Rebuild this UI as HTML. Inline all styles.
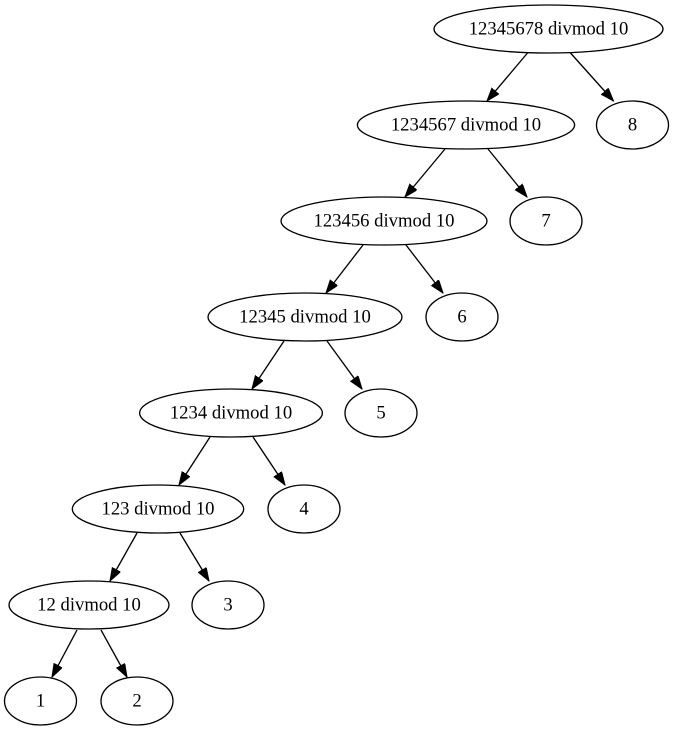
<!DOCTYPE html>
<html><head><meta charset="utf-8"><style>
html,body{margin:0;padding:0;background:#fff;}
svg{display:block;}
text{font-family:"Liberation Serif",serif;font-size:18.67px;fill:#000;text-anchor:middle;dominant-baseline:central;}
ellipse{fill:none;stroke:#000;stroke-width:1.33;}
line{stroke:#000;stroke-width:1.33;}
</style></head><body>
<svg width="675" height="731" viewBox="0 0 675 731">
<defs><marker id="a" markerWidth="14" markerHeight="10" refX="13.3" refY="4.7" orient="auto" markerUnits="userSpaceOnUse"><polygon points="0,0 13.3,4.7 0,9.4" fill="#000" stroke="#000"/></marker></defs>
<ellipse cx="548.5" cy="29" rx="114.5" ry="24"/><text x="548.5" y="29">12345678 divmod 10</text>
<ellipse cx="632.5" cy="125" rx="36" ry="24"/><text x="632.5" y="125">8</text>
<ellipse cx="466" cy="125" rx="108.6" ry="24"/><text x="466" y="125">1234567 divmod 10</text>
<ellipse cx="546" cy="221" rx="36" ry="24"/><text x="546" y="221">7</text>
<ellipse cx="384" cy="221" rx="103" ry="24"/><text x="384" y="221">123456 divmod 10</text>
<ellipse cx="462" cy="317" rx="36" ry="24"/><text x="462" y="317">6</text>
<ellipse cx="305" cy="317" rx="97" ry="24"/><text x="305" y="317">12345 divmod 10</text>
<ellipse cx="381" cy="413" rx="36" ry="24"/><text x="381" y="413">5</text>
<ellipse cx="231" cy="413" rx="91.4" ry="24"/><text x="231" y="413">1234 divmod 10</text>
<ellipse cx="304" cy="509" rx="36" ry="24"/><text x="304" y="509">4</text>
<ellipse cx="158" cy="509" rx="85.7" ry="24"/><text x="158" y="509">123 divmod 10</text>
<ellipse cx="228" cy="605" rx="36" ry="24"/><text x="228" y="605">3</text>
<ellipse cx="89" cy="605" rx="80" ry="24"/><text x="89" y="605">12 divmod 10</text>
<ellipse cx="40.5" cy="701" rx="36" ry="24"/><text x="40.5" y="701">1</text>
<ellipse cx="137" cy="701" rx="36" ry="24"/><text x="137" y="701">2</text>
<g marker-end="url(#a)">
<line x1="527.5" y1="53" x2="487" y2="101"/>
<line x1="570.5" y1="53" x2="613.5" y2="101"/>
<line x1="445" y1="149" x2="405" y2="197"/>
<line x1="488" y1="149" x2="527" y2="197"/>
<line x1="363" y1="245" x2="326" y2="293"/>
<line x1="406" y1="245" x2="443" y2="293"/>
<line x1="284" y1="341" x2="252" y2="389"/>
<line x1="327" y1="341" x2="362" y2="389"/>
<line x1="210" y1="437" x2="179" y2="485"/>
<line x1="253" y1="437" x2="285" y2="485"/>
<line x1="137" y1="533" x2="110" y2="581"/>
<line x1="180" y1="533" x2="209" y2="581"/>
<line x1="77" y1="630" x2="52" y2="677"/>
<line x1="101" y1="630" x2="127" y2="677"/>
</g>
</svg>
</body></html>
